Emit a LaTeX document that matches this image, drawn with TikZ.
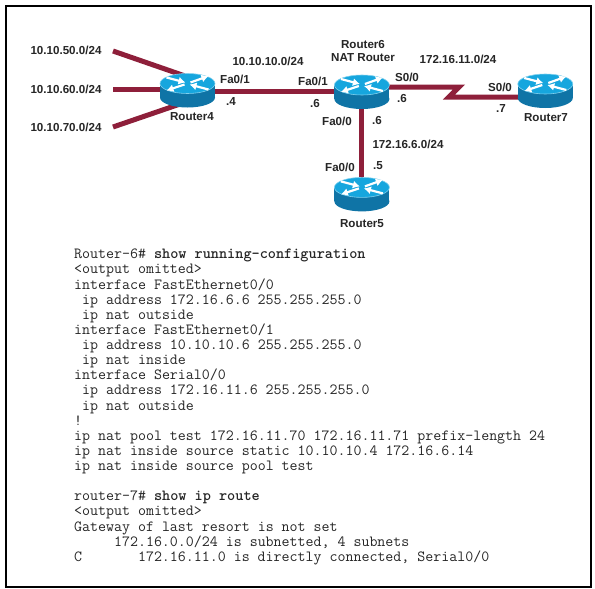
\documentclass[tikz,border=0pt]{standalone}
\usepackage{fontspec}
\setsansfont{Liberation Sans}
\usepackage{xcolor}
\usetikzlibrary{arrows.meta,positioning}
\definecolor{LinkRed}{HTML}{8E1F3A}
\definecolor{RouterTop}{HTML}{16A6DE}
\definecolor{RouterBody}{HTML}{0F74A6}
\definecolor{RouterEdge}{HTML}{7FD0EE}
\newcommand{\cfgind}[1]{\hspace*{#1\dimexpr 7.98pt\relax}}
\tikzset{
  routerbox/.style={inner sep=0pt,minimum width=55pt,minimum height=35pt},
  link/.style={line width=5pt,draw=LinkRed},
  iplabel/.style={font=\sffamily\bfseries\fontsize{11.6}{13}\selectfont,inner sep=0pt,text=black!85},
  cfgtext/.style={font=\ttfamily\fontsize{15.5}{15.12}\selectfont,align=left,inner sep=0pt,text=black!85},
  frame/.style={draw=black,line width=2pt},
  arrowline/.style={draw=white,line width=2.2pt,-{Latex[length=7pt,width=8pt]}},
  routericon/.pic={
    \fill[RouterBody] (-27.5,-7) rectangle (27.5,7);
    \fill[RouterBody] (0,7) ellipse[x radius=27.5,y radius=10];
    \fill[RouterTop,draw=RouterEdge,line width=.6pt] (0,-7) ellipse[x radius=27.5,y radius=10];
    \draw[arrowline] (-21,-13) -- (-2,-8);
    \draw[arrowline] (21,-1) -- (2,-6);
    \draw[arrowline] (3,-8) -- (21,-14.5);
    \draw[arrowline] (-3,-6) -- (-21,0);
  }
}
\begin{document}
\begin{tikzpicture}[x=1pt,y=-1pt]
  \useasboundingbox (0,0) rectangle (595,589);
  \fill[white] (0,0) rectangle (595,589);
  \draw[frame] (6,6) rectangle (591,587);
  \node[routerbox] (router4) at (187.5,90.5) {};
  \node[routerbox,right=119pt of router4,yshift=-1.5pt] (router6) {};
  \node[routerbox,right=128pt of router6,yshift=1pt] (router7) {};
  \node[routerbox,below=67pt of router6] (router5) {};
  \coordinate (net50) at (113,51);
  \coordinate (net60) at (113,89);
  \coordinate (net70) at (113,127);
  \draw[link] (net50) -- ([xshift=-3pt,yshift=-3pt]router4.north);
  \draw[link] (net60) -- (router4.center |- net60);
  \draw[link] (net70) -- ([xshift=-8pt,yshift=4pt]router4.south);
  \draw[link] (router4.center |- 0,91) -- (router6.center |- 0,91);
  \draw[link] (router6.center) -- (router5.center);
  \draw[link] (router6.center |- 0,87) -- (459,87) -- (449,97) -- (router7.center |- 0,97);
  \pic at (router4) {routericon};
  \pic at (router6) {routericon};
  \pic at (router7) {routericon};
  \pic at (router5) {routericon};
  \node[iplabel] (lan50) at (66,50) {10.10.50.0/24};
  \node[iplabel] (lan60) at (66,89) {10.10.60.0/24};
  \node[iplabel] (lan70) at (66,127) {10.10.70.0/24};
  \node[iplabel] (name4) at (192,117) {Router4};
  \node[iplabel] (fa41) at (235,79) {Fa0/1};
  \node[iplabel] (ip4) at (231,102) {.4};
  \node[iplabel] (net10) at (268,61) {10.10.10.0/24};
  \node[iplabel] (fa61) at (313,81) {Fa0/1};
  \node[iplabel] (ip61) at (315,104) {.6};
  \node[iplabel] (name6) at (363,45) {Router6};
  \node[iplabel] (nat6) at (363,58) {NAT Router};
  \node[iplabel] (net11) at (458,59) {172.16.11.0/24};
  \node[iplabel] (s60) at (407,77) {S0/0};
  \node[iplabel] (ip66) at (402,99) {.6};
  \node[iplabel] (s70) at (500,87) {S0/0};
  \node[iplabel] (ip7) at (501,109) {.7};
  \node[iplabel] (name7) at (546,118) {Router7};
  \node[iplabel] (fa60) at (337,121) {Fa0/0};
  \node[iplabel] (ip60) at (377,121) {.6};
  \node[iplabel] (net6) at (408,144) {172.16.6.0/24};
  \node[iplabel] (fa50) at (340,167) {Fa0/0};
  \node[iplabel] (ip5) at (378,166) {.5};
  \node[iplabel] (name5) at (362,224) {Router5};
  \node[cfgtext,anchor=north west] (config) at (74,249) {Router-6\# \textbf{show running-configuration}\\
    <output omitted>\\
    interface FastEthernet0/0\\
    \cfgind{1}ip address 172.16.6.6 255.255.255.0\\
    \cfgind{1}ip nat outside\\
    interface FastEthernet0/1\\
    \cfgind{1}ip address 10.10.10.6 255.255.255.0\\
    \cfgind{1}ip nat inside\\
    interface Serial0/0\\
    \cfgind{1}ip address 172.16.11.6 255.255.255.0\\
    \cfgind{1}ip nat outside\\
    !\\
    ip nat pool test 172.16.11.70 172.16.11.71 prefix-length 24\\
    ip nat inside source static 10.10.10.4 172.16.6.14\\
    ip nat inside source pool test\\
    \mbox{}\\
    router-7\# \textbf{show ip route}\\
    <output omitted>\\
    Gateway of last resort is not set\\
    \cfgind{5}172.16.0.0/24 is subnetted, 4 subnets\\
    C\cfgind{7}172.16.11.0 is directly connected, Serial0/0};
\end{tikzpicture}
\end{document}
